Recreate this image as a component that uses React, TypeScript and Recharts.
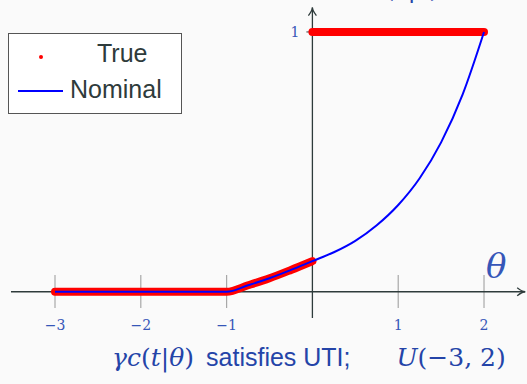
import { LineChart, Line, XAxis, YAxis, ReferenceLine, ReferenceDot } from "recharts"

// theta grid and the nominal curve
const theta = [-3, -2, -1, -0.75, -0.5, -0.25, 0, 0.25, 0.5, 0.75, 1, 1.25, 1.5, 1.75, 2]
const nominal = [0, 0, 0, 0.025, 0.052, 0.084, 0.118, 0.152, 0.196, 0.256, 0.334, 0.437, 0.575, 0.759, 1]

// true curve: follows nominal below 0, jumps to 1 from 0 to 2
const trueLowTheta = [-3, -2, -1, -0.75, -0.5, -0.25, 0]
const trueLow = [0, 0, 0, 0.025, 0.052, 0.084, 0.118]
const trueHighTheta = [0, 2]
const trueHigh = [1, 1]

const xTicks = [-3, -2, -1, 1, 2]
const xTickLabels = ["−3", "−2", "−1", "1", "2"]
const yTicks = [1]

const nominalData = theta.map((x, i) => ({ x, v: nominal[i] }))
const lowData = trueLowTheta.map((x, i) => ({ x, v: trueLow[i] }))
const highData = trueHighTheta.map((x, i) => ({ x, v: trueHigh[i] }))

const AXIS = "#2e3b3b"
const LABEL = "#3656b8"
const CAPTION = "#2444a8"

function ArrowLine(props: any) {
  const { x1, y1, x2, y2 } = props
  const a = Math.atan2(y2 - y1, x2 - x1)
  const len = 8
  const w = 4
  const bx = x2 - Math.cos(a) * len
  const by = y2 - Math.sin(a) * len
  const px = -Math.sin(a) * w
  const py = Math.cos(a) * w
  return (
    <g>
      <line x1={x1} y1={y1} x2={x2} y2={y2} stroke={AXIS} strokeWidth={1.3} />
      <path
        d={`M${bx + px},${by + py} Q${x2 - Math.cos(a) * 3},${y2 - Math.sin(a) * 3} ${x2},${y2} Q${x2 - Math.cos(a) * 3},${y2 - Math.sin(a) * 3} ${bx - px},${by - py}`}
        fill="none"
        stroke={AXIS}
        strokeWidth={1.3}
      />
    </g>
  )
}

function tickText(label: string, size: number, anchor: "middle" | "end") {
  return (p: any) => (
    <text
      x={p.cx}
      y={p.cy}
      textAnchor={anchor}
      dominantBaseline="central"
      fontFamily="'DejaVu Serif', serif"
      fontSize={size}
      fill={LABEL}
    >
      {label}
    </text>
  )
}

const serifItalic = { fontFamily: "'DejaVu Serif', serif", fontStyle: "italic" as const }
const serif = { fontFamily: "'DejaVu Serif', serif" }
const sans = { fontFamily: "'Liberation Sans', sans-serif" }

export default function App() {
  return (
    <div style={{ position: "absolute", left: 0, top: 0, width: 527, height: 384, background: "#fafafa", overflow: "hidden" }}>
      <LineChart width={527} height={384} margin={{ top: 0, right: 0, bottom: 0, left: 0 }}>
        <XAxis type="number" dataKey="x" domain={[-3.641, 2.501]} hide allowDataOverflow />
        <YAxis type="number" domain={[-0.355, 1.123]} hide allowDataOverflow />

        {xTicks.map((t) => (
          <ReferenceLine
            key={"t" + t}
            segment={[{ x: t, y: 0.065 }, { x: t, y: -0.062 }]}
            stroke="#a8a8a8"
            strokeWidth={1.2}
          />
        ))}
        {yTicks.map((t) => (
          <ReferenceLine
            key={"y" + t}
            segment={[{ x: -0.07, y: t }, { x: 0, y: t }]}
            stroke={AXIS}
            strokeWidth={1}
          />
        ))}

        <ReferenceLine segment={[{ x: -3.513, y: 0 }, { x: 2.48, y: 0 }]} shape={ArrowLine} />
        <ReferenceLine segment={[{ x: 0, y: -0.101 }, { x: 0, y: 1.094 }]} shape={ArrowLine} />

        {xTicks.map((t, i) => (
          <ReferenceDot key={"l" + t} x={t} y={-0.128} r={0} shape={tickText(xTickLabels[i], 14, "middle")} />
        ))}
        <ReferenceDot x={-0.15} y={1} r={0} shape={tickText("1", 14, "end")} />

        <Line
          data={lowData}
          dataKey="v"
          type="monotone"
          stroke="#ff0000"
          strokeWidth={8}
          strokeLinecap="round"
          strokeLinejoin="round"
          dot={false}
          activeDot={false}
          isAnimationActive={false}
        />
        <Line
          data={highData}
          dataKey="v"
          type="linear"
          stroke="#ff0000"
          strokeWidth={8}
          strokeLinecap="round"
          dot={false}
          activeDot={false}
          isAnimationActive={false}
        />
        <Line
          data={nominalData}
          dataKey="v"
          type="monotone"
          stroke="#0000ff"
          strokeWidth={2}
          dot={false}
          activeDot={false}
          isAnimationActive={false}
        />
      </LineChart>

      {/* theta label at the end of the horizontal axis */}
      <div style={{ position: "absolute", left: 486, top: 246, fontSize: 34, color: LABEL, ...serifItalic }}>θ</div>

      {/* caption above the plot, mostly off the top edge */}
      <div style={{ position: "absolute", left: 372, top: -27, fontSize: 26, color: CAPTION, ...serifItalic, whiteSpace: "nowrap" }}>
        c(t|θ)
      </div>

      {/* legend */}
      <div
        style={{
          position: "absolute",
          left: 8,
          top: 33,
          width: 174,
          height: 81,
          background: "#ffffff",
          border: "1.5px solid #555",
          boxSizing: "border-box",
        }}
      >
        <div style={{ position: "absolute", left: 30, top: 21, width: 4, height: 4, borderRadius: 2, background: "#ff0000" }} />
        <div style={{ position: "absolute", left: 88, top: 5, fontSize: 25, color: "#2e3b3b", ...sans }}>True</div>
        <div style={{ position: "absolute", left: 9, top: 56, width: 45, height: 2, background: "#0000ff" }} />
        <div style={{ position: "absolute", left: 61, top: 41, fontSize: 25, color: "#2e3b3b", ...sans }}>Nominal</div>
      </div>

      {/* bottom caption */}
      <div style={{ position: "absolute", left: 112, top: 343, fontSize: 25, color: CAPTION, whiteSpace: "nowrap" }}>
        <span style={serifItalic}>γc</span>
        <span style={serif}>(</span>
        <span style={serifItalic}>t</span>
        <span style={serif}>|</span>
        <span style={serifItalic}>θ</span>
        <span style={serif}>)</span>
        <span style={{ ...sans, marginLeft: 12 }}>satisfies UTI;</span>
        <span style={{ ...serifItalic, marginLeft: 46 }}>U</span>
        <span style={serif}>(−3, 2)</span>
      </div>
    </div>
  )
}
